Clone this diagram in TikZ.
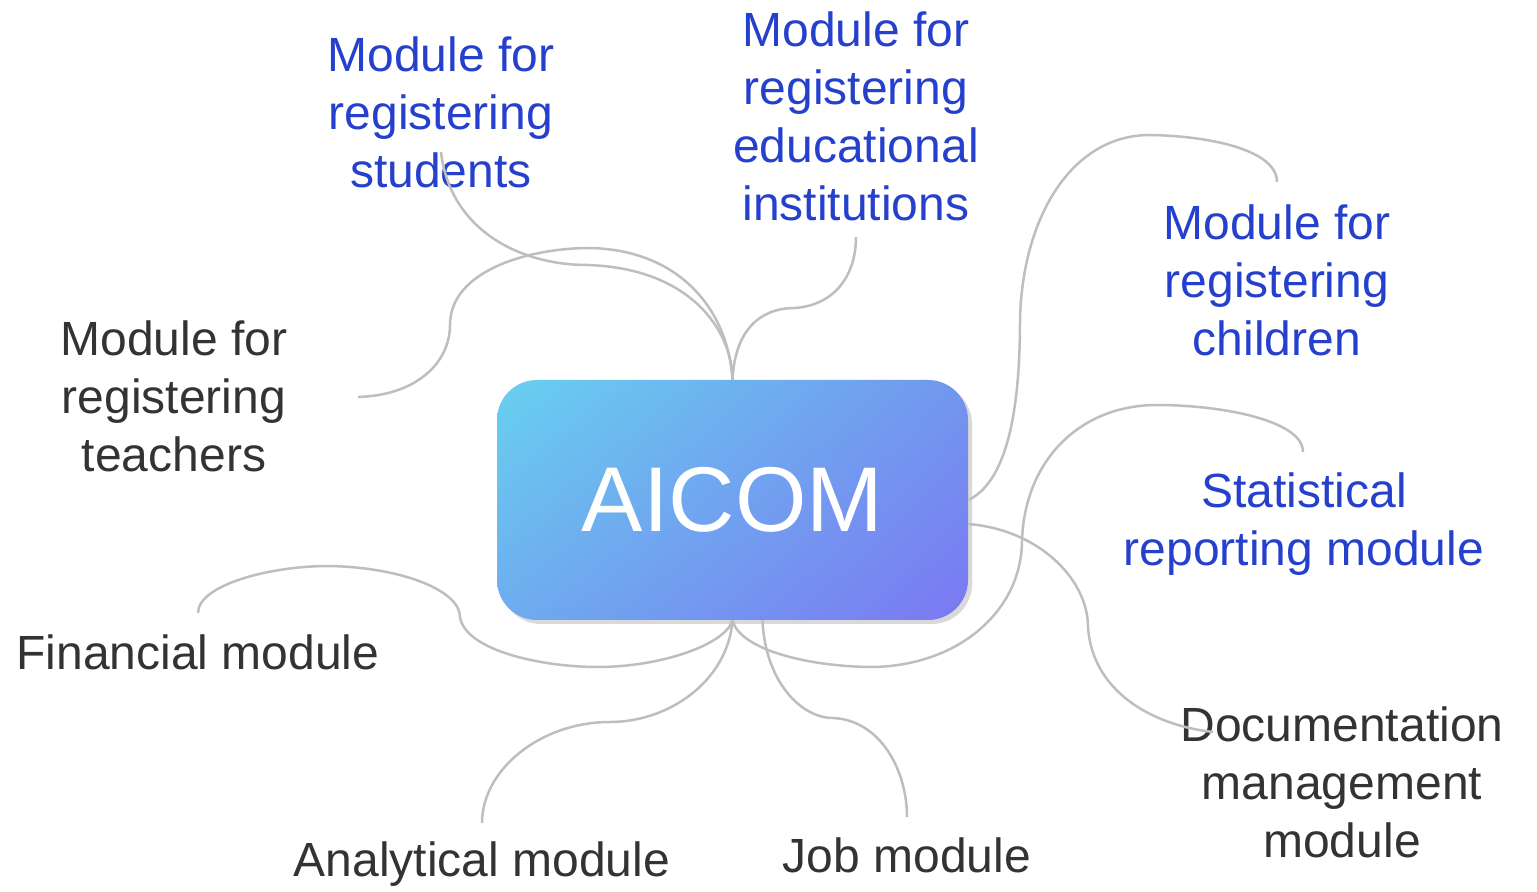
\documentclass[tikz,border=0pt]{standalone}
\usepackage{fontspec}
\setmainfont{Liberation Sans}
\usetikzlibrary{shadows,shadings}
\definecolor{tblue}{RGB}{37,64,204}
\definecolor{tgray}{RGB}{51,51,51}
\definecolor{lgray}{RGB}{190,190,190}
\definecolor{cUL}{RGB}{104,208,240}
\definecolor{cUR}{RGB}{114,150,238}
\definecolor{cLL}{RGB}{110,172,238}
\definecolor{cLR}{RGB}{123,120,243}
\tikzset{
  lbl/.style={align=center, font=\fontsize{24}{29}\selectfont, inner sep=0pt},
  bluelbl/.style={lbl, text=tblue},
  graylbl/.style={lbl, text=tgray},
  conn/.style={draw=lgray, line width=1.25pt},
  hub/.style={rounded corners=20pt, minimum width=235.5pt, minimum height=120pt,
    upper left=cUL, upper right=cUR, lower left=cLL, lower right=cLR,
    drop shadow={shadow xshift=2pt, shadow yshift=-2pt, opacity=0.3},
    text=white, font=\fontsize{46}{50}\selectfont, inner sep=0pt}
}
\begin{document}
\begin{tikzpicture}[x=0.5pt,y=-0.5pt]
\useasboundingbox (0,0) rectangle (1537,892);
% labels
\node[bluelbl] (stu) at (441,112) {Module for\\registering\\students};
\node[bluelbl] (edu) at (856,116) {Module for\\registering\\educational\\institutions};
\node[bluelbl] (chi) at (1277,280) {Module for\\registering\\children};
\node[bluelbl] (sta) at (1304,524) {Statistical\\reporting module};
\node[graylbl] (doc) at (1342,782) {Documentation\\management\\module};
\node[graylbl] (job) at (907,855) {Job module};
\node[graylbl] (ana) at (482,864) {Analytical module};
\node[graylbl] (fin) at (198,652) {Financial module};
\node[graylbl] (tea) at (174,396) {Module for\\registering\\teachers};
% hub
\node[hub] (hub) at (732.5,500) {AICOM};
% connector ends
\coordinate (e-stu) at (441,152);
\coordinate (e-edu) at (856,237);
\coordinate (e-chi) at (1277,182);
\coordinate (e-sta) at (1303,452);
\coordinate (e-doc) at (1213,732);
\coordinate (e-job) at (907,817);
\coordinate (e-ana) at (482,823);
\coordinate (e-fin) at (198,613);
\coordinate (e-tea) at (358,397);
% connectors
\draw[conn] (hub.north) .. controls (732,330) and (690,268) .. (587,265) .. controls (520,265) and (450,230) .. (e-stu);
\draw[conn] (hub.north) .. controls (728,310) and (680,250) .. (590,248) .. controls (530,248) and (450,270) .. (450,325) .. controls (450,360) and (420,395) .. (e-tea);
\draw[conn] (hub.north) .. controls (735,330) and (760,308) .. (795,308) .. controls (835,305) and (856,275) .. (e-edu);
\draw[conn] (hub.east) .. controls (1010,480) and (1020,400) .. (1020,320) .. controls (1022,220) and (1070,135) .. (1150,135) .. controls (1210,136) and (1277,150) .. (e-chi);
\draw[conn] (hub.south) .. controls (740,650) and (810,667) .. (874,667) .. controls (960,665) and (1022,610) .. (1022,540) .. controls (1025,460) and (1080,405) .. (1157,405) .. controls (1220,405) and (1303,420) .. (e-sta);
\draw[conn] ([yshift=-12pt]hub.east) .. controls (1040,530) and (1088,580) .. (1088,627) .. controls (1092,690) and (1150,725) .. (e-doc);
\draw[conn] ([xshift=15pt]hub.south) .. controls (765,680) and (800,718) .. (833,718) .. controls (880,720) and (907,770) .. (e-job);
\draw[conn] (hub.south) .. controls (728,680) and (670,722) .. (610,722) .. controls (540,722) and (482,770) .. (e-ana);
\draw[conn] (hub.south) .. controls (725,645) and (660,667) .. (598,667) .. controls (540,667) and (465,650) .. (460,617) .. controls (460,590) and (400,567) .. (328,566) .. controls (270,566) and (198,585) .. (e-fin);
\end{tikzpicture}
\end{document}
